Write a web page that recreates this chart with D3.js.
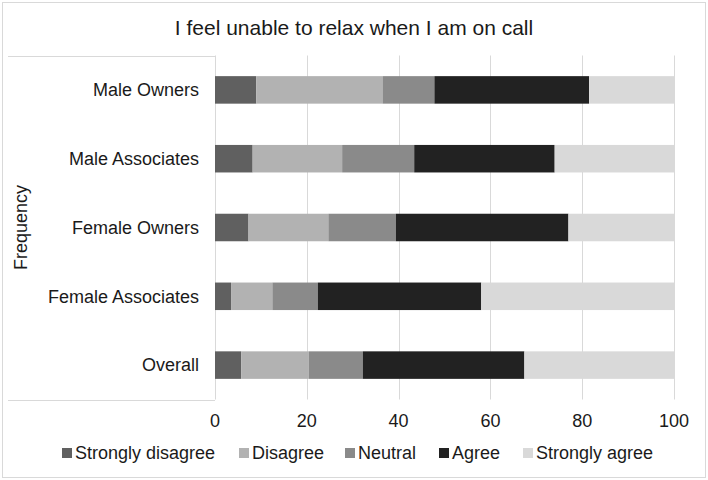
<!DOCTYPE html>
<html lang="en">
<head>
    <meta charset="UTF-8">
    <title>I feel unable to relax when I am on call</title>
    <style>
        body {
            margin: 0;
            padding: 0;
            background: #fff;
        }

        svg {
            display: block;
            font-family: "Liberation Sans", Arial, sans-serif;
        }

        .grid line {
            stroke: #d9d9d9;
            stroke-width: 1;
        }

        .lbl {
            fill: #1a1a1a;
            font-size: 18px;
        }
    </style>
</head>
<body>
    <svg width="708" height="480"></svg>

    <script src="https://d3js.org/d3.v7.min.js"></script>
    <script>
        // Chart data
        const categories = ["Male Owners", "Male Associates", "Female Owners", "Female Associates", "Overall"];
        const seriesNames = ["Strongly disagree", "Disagree", "Neutral", "Agree", "Strongly agree"];
        const stronglyDisagree = [9.0, 8.2, 7.3, 3.5, 5.7];
        const disagree = [27.5, 19.5, 17.4, 9.0, 14.7];
        const neutral = [11.3, 15.7, 14.7, 9.9, 11.8];
        const agree = [33.7, 30.6, 37.6, 35.6, 35.2];
        const stronglyAgree = [18.5, 26.0, 23.0, 42.0, 32.6];
        const xTicks = [0, 20, 40, 60, 80, 100];

        const colors = ["#606060", "#b2b2b2", "#8a8a8a", "#222222", "#d9d9d9"];

        const svg = d3.select("svg");
        const width = 708;
        const height = 480;

        // plot area
        const plotLeft = 215, plotRight = 674, plotTop = 55.5, plotBottom = 399.5;

        // outer border
        svg.append("rect")
            .attr("x", 2.5).attr("y", 2.5)
            .attr("width", width - 5).attr("height", height - 5)
            .attr("fill", "#fff")
            .attr("stroke", "#d9d9d9");

        // title
        svg.append("text")
            .attr("x", width / 2)
            .attr("y", 35)
            .attr("text-anchor", "middle")
            .attr("fill", "#1a1a1a")
            .style("font-size", "21px")
            .text("I feel unable to relax when I am on call");

        const x = d3.scaleLinear().domain([0, 100]).range([plotLeft, plotRight]);
        const y = d3.scaleBand().domain(categories).range([plotTop, plotBottom])
            .paddingInner(0.6).paddingOuter(0.3);

        // build the stacked table from the arrays
        const allSeries = [stronglyDisagree, disagree, neutral, agree, stronglyAgree];
        const rows = categories.map((c, i) => {
            const r = { cat: c };
            seriesNames.forEach((s, j) => r[s] = allSeries[j][i]);
            return r;
        });
        const stacked = d3.stack().keys(seriesNames)(rows);

        // vertical gridlines
        svg.append("g")
            .attr("class", "grid")
            .selectAll("line")
            .data(xTicks)
            .enter()
            .append("line")
            .attr("x1", d => Math.round(x(d)) + 0.5)
            .attr("x2", d => Math.round(x(d)) + 0.5)
            .attr("y1", plotTop)
            .attr("y2", plotBottom);

        // label-area box lines (top and bottom)
        svg.append("g")
            .attr("class", "grid")
            .selectAll("line")
            .data([plotTop, plotBottom])
            .enter()
            .append("line")
            .attr("x1", 8)
            .attr("x2", plotLeft)
            .attr("y1", d => Math.round(d) + 0.5)
            .attr("y2", d => Math.round(d) + 0.5);

        // bars
        svg.append("g")
            .selectAll("g")
            .data(stacked)
            .enter()
            .append("g")
            .attr("fill", (d, i) => colors[i])
            .selectAll("rect")
            .data(d => d)
            .enter()
            .append("rect")
            .attr("x", d => x(d[0]))
            .attr("width", d => x(d[1]) - x(d[0]))
            .attr("y", d => y(d.data.cat))
            .attr("height", y.bandwidth());

        // category labels
        svg.append("g")
            .selectAll("text")
            .data(categories)
            .enter()
            .append("text")
            .attr("class", "lbl")
            .attr("x", 199)
            .attr("y", d => y(d) + y.bandwidth() / 2)
            .attr("dy", "0.35em")
            .attr("text-anchor", "end")
            .text(d => d);

        // x tick labels
        svg.append("g")
            .selectAll("text")
            .data(xTicks)
            .enter()
            .append("text")
            .attr("class", "lbl")
            .attr("x", d => x(d))
            .attr("y", 421)
            .attr("dy", "0.35em")
            .attr("text-anchor", "middle")
            .text(d => d);

        // y axis title
        svg.append("text")
            .attr("class", "lbl")
            .attr("transform", "translate(21," + ((plotTop + plotBottom) / 2) + ") rotate(-90)")
            .attr("text-anchor", "middle")
            .attr("dy", "0.35em")
            .text("Frequency");

        // legend
        const legendX = [62, 239, 345, 439, 523];
        const legend = svg.append("g")
            .selectAll("g")
            .data(seriesNames)
            .enter()
            .append("g")
            .attr("transform", (d, i) => "translate(" + legendX[i] + ",453)");

        legend.append("rect")
            .attr("x", 0)
            .attr("y", -5)
            .attr("width", 10)
            .attr("height", 10)
            .attr("fill", (d, i) => colors[i]);

        legend.append("text")
            .attr("class", "lbl")
            .attr("x", 13)
            .attr("dy", "0.35em")
            .text(d => d);
    </script>
</body>
</html>
